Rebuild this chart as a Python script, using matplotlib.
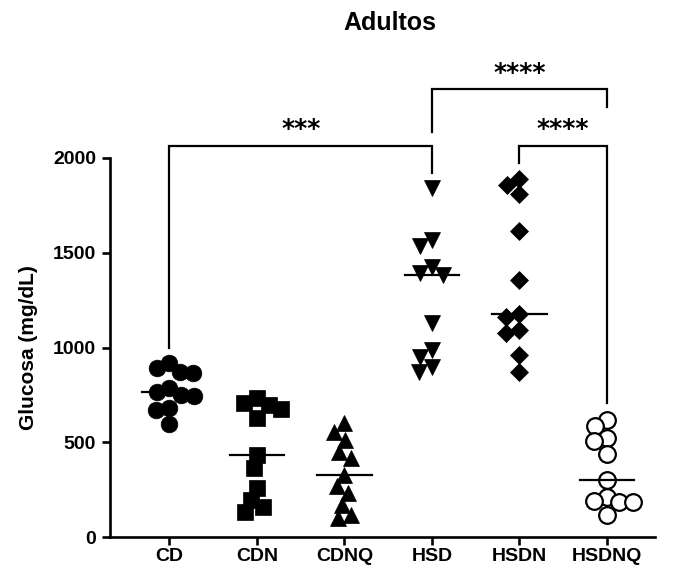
import numpy as np
import matplotlib
matplotlib.use("Agg")
import matplotlib.pyplot as plt

plt.rcParams['font.family'] = ['Liberation Sans', 'DejaVu Sans']

# Glucosa (mg/dL) per group
groups = ['CD', 'CDN', 'CDNQ', 'HSD', 'HSDN', 'HSDNQ']
cd = [918, 893, 871, 865, 786, 765, 749, 744, 681, 670, 596]
cdn = [733, 709, 697, 674, 627, 433, 364, 259, 195, 158, 132]
cdnq = [601, 554, 512, 449, 417, 327, 269, 232, 169, 116, 100]
hsd = [1842, 1567, 1536, 1425, 1393, 1383, 1129, 987, 950, 897, 871]
hsdn = [1889, 1858, 1810, 1615, 1356, 1177, 1161, 1092, 1076, 960, 869]
hsdnq = [617, 586, 521, 507, 438, 301, 211, 190, 185, 185, 116]
values = [cd, cdn, cdnq, hsd, hsdn, hsdnq]

# significance brackets: (group a, group b, label)
comparisons = [(0, 3, '***'), (3, 5, '****'), (4, 5, '****')]

markers = ['o', 's', '^', 'v', 'D', 'o']
sizes = [12, 11.5, 12, 12, 9, 12]
faces = ['black', 'black', 'black', 'black', 'black', 'white']

W, H, DPI = 674, 575, 100
fig = plt.figure(figsize=(W / DPI, H / DPI), dpi=DPI)
ax = fig.add_axes([110 / W, 38 / H, 545 / W, 379 / H])

xlim = (-0.68, 5.55)
ylim = (0, 2000)
ax.set_xlim(*xlim)
ax.set_ylim(*ylim)

# pixel scales for the swarm layout
px_x = 545 / (xlim[1] - xlim[0])
px_y = 379 / (ylim[1] - ylim[0])


def swarm(vals, dist=13.5):
    """simple beeswarm: offsets (in x data units) so points don't pile up"""
    placed = []
    offs = []
    for v in vals:
        y = v * px_y
        cands = [0.0]
        for (px, py) in placed:
            dy = y - py
            if abs(dy) < dist:
                dx = np.sqrt(dist ** 2 - dy ** 2)
                cands += [px + dx, px - dx]
        cands.sort(key=lambda c: (abs(c), c))
        for c in cands:
            ok = all((c - px) ** 2 + (y - py) ** 2 >= dist ** 2 - 1e-6
                     for (px, py) in placed)
            if ok:
                break
        placed.append((c, y))
        offs.append(c / px_x)
    return np.array(offs)


for i, vals in enumerate(values):
    vals = np.array(vals, dtype=float)
    xs = i + swarm(vals)
    ax.plot(xs, vals, linestyle='none', marker=markers[i],
            markersize=sizes[i], markerfacecolor=faces[i],
            markeredgecolor='black', markeredgewidth=1.6 if i == 5 else 0.5,
            zorder=3, clip_on=False)
    med = np.median(vals)
    ax.plot([i - 0.31, i + 0.31], [med, med], color='black', lw=1.6, zorder=4)

# brackets
def bracket(a, b, y, ya, yb, label):
    ax.plot([a, a, b, b], [ya, y, y, yb], color='black', lw=1.6,
            clip_on=False, solid_joinstyle='miter')
    ax.text((a + b) / 2, y + 88, label, ha='center', va='center',
            fontsize=18, fontweight='bold', family='DejaVu Sans')

bracket(0, 3, 2065, 997, 1921, comparisons[0][2])
bracket(3, 5, 2362, 2139, 2271, comparisons[1][2])
bracket(4, 5, 2065, 1972, 705, comparisons[2][2])

ax.set_xticks(range(len(groups)))
ax.set_xticklabels(groups)
ax.set_yticks([0, 500, 1000, 1500, 2000])
for s in ['top', 'right']:
    ax.spines[s].set_visible(False)
for s in ['left', 'bottom']:
    ax.spines[s].set_linewidth(1.9)
ax.tick_params(width=1.9, length=6, labelsize=14, pad=4)
ax.tick_params(axis='x', pad=2)
for lab in ax.get_xticklabels() + ax.get_yticklabels():
    lab.set_fontweight('bold')

ax.set_ylabel('Glucosa (mg/dL)', fontsize=15, fontweight='bold', labelpad=11)
fig.text(390 / W, 1 - 23 / H, 'Adultos', ha='center', va='center',
         fontsize=18, fontweight='bold')

fig.savefig('out.png', dpi=DPI, facecolor='white')
